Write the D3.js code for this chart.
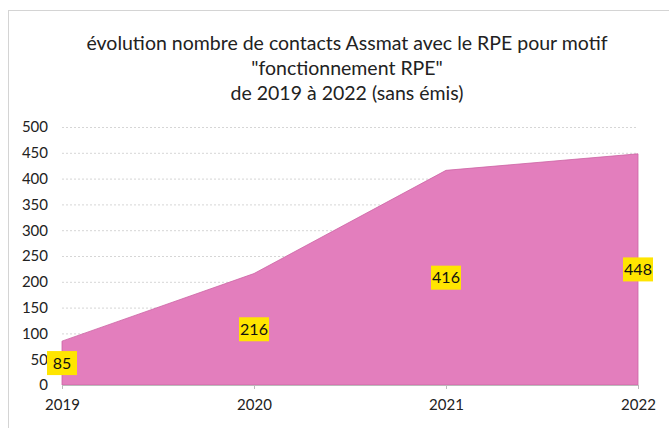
<!DOCTYPE html>
<html><head><meta charset="utf-8">
<script src="https://cdn.jsdelivr.net/npm/d3@7"></script>
<style>body{margin:0;background:#fff;}svg{display:block;}</style>
</head><body>
<svg id="c" width="669" height="428"></svg>
<script>
const years = ["2019", "2020", "2021", "2022"];
const contacts = [85, 216, 416, 448];
const yTicks = [0, 50, 100, 150, 200, 250, 300, 350, 400, 450, 500];
const titleLines = ["évolution nombre de contacts Assmat avec le RPE pour motif", "\"fonctionnement RPE\"", "de 2019 à 2022 (sans émis)"];

const svg = d3.select("#c");
const font = "Lato, 'Open Sans', sans-serif";
const m = {left: 62, right: 31, top: 127, bottom: 43};
const W = 669, H = 428;

svg.append("rect").attr("x", 8.5).attr("y", 10.5).attr("width", 670).attr("height", 430)
  .attr("fill", "#fff").attr("stroke", "#d4d4d4");

const x = d3.scalePoint().domain(years).range([m.left, W - m.right]);
const y = d3.scaleLinear().domain([0, 500]).range([H - m.bottom, m.top]);

// grid
svg.append("g").selectAll("line").data(yTicks.filter(d => d > 0)).join("line")
  .attr("x1", m.left).attr("x2", W - m.right)
  .attr("y1", d => y(d) + 0.5).attr("y2", d => y(d) + 0.5)
  .attr("stroke", "#d6d6d6").attr("stroke-dasharray", "2,2").attr("stroke-width", 1);

const data = years.map((yr, i) => ({yr, v: contacts[i]}));
svg.append("path").datum(data)
  .attr("d", d3.area().x(d => x(d.yr)).y0(y(0)).y1(d => y(d.v)))
  .attr("fill", "#e37ebd").attr("stroke", "#cc63a3").attr("stroke-width", 0.8);

// axes
const yAxis = d3.axisLeft(y).tickValues(yTicks).tickSize(0).tickPadding(14);
const gy = svg.append("g").attr("transform", `translate(${m.left},0)`).call(yAxis);
gy.select(".domain").remove();
gy.selectAll("text").attr("font-family", font).attr("font-size", 15).attr("fill", "#222");

const xAxis = d3.axisBottom(x).tickSize(4).tickPadding(10);
const gx = svg.append("g").attr("transform", `translate(0,${y(0)})`).call(xAxis);
gx.select(".domain").attr("stroke", "#bbb");
gx.selectAll("line").attr("stroke", "#bbb");
gx.selectAll("text").attr("font-family", font).attr("font-size", 15).attr("fill", "#222");

// labels
const lab = svg.append("g").selectAll("g").data(data).join("g")
  .attr("transform", d => `translate(${x(d.yr)},${y(d.v / 2)})`);
lab.append("rect").attr("x", -15).attr("y", -12).attr("width", 30).attr("height", 24).attr("fill", "#ffe500");
lab.append("text").attr("text-anchor", "middle").attr("dy", "0.36em")
  .attr("font-family", font).attr("font-size", 16).attr("fill", "#111").text(d => d.v);

// title
svg.append("g").selectAll("text").data(titleLines).join("text")
  .attr("x", 347).attr("y", (d, i) => 50 + i * 25).attr("text-anchor", "middle")
  .attr("font-family", font).attr("font-size", 19.5).attr("fill", "#222").text(d => d);
</script>
</body></html>
